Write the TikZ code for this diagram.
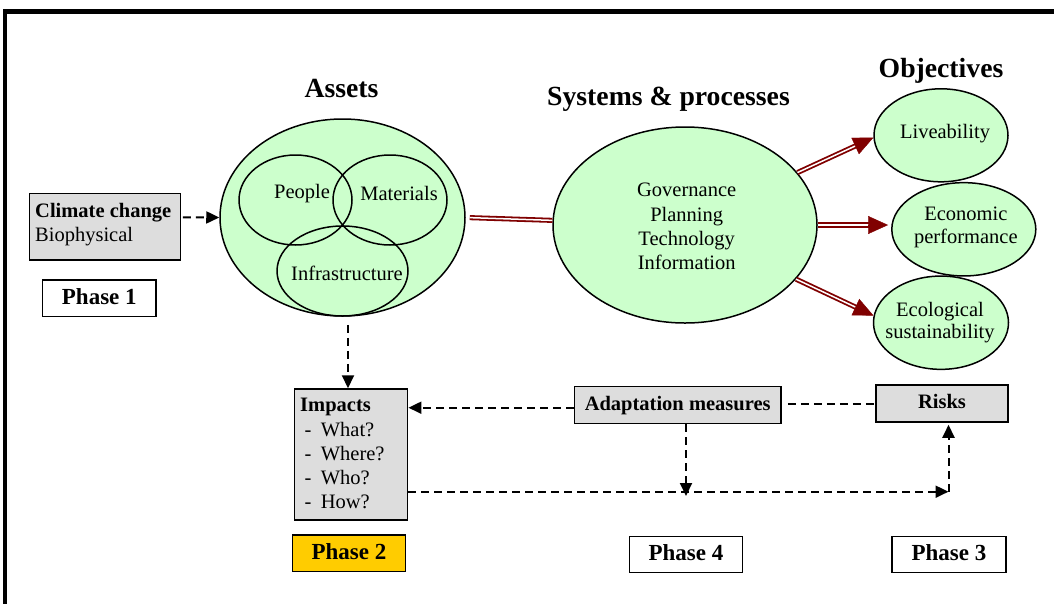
\documentclass[tikz,border=0pt]{standalone}
\usepackage{fontspec}
\setmainfont{Liberation Serif}
\usetikzlibrary{arrows.meta,shapes.geometric,calc}

\definecolor{lgreen}{HTML}{CCFFCC}
\definecolor{lgray}{HTML}{DDDDDD}
\definecolor{gold}{HTML}{FFCC00}
\definecolor{dred}{HTML}{800000}

\newcommand{\diagBody}{\fontsize{20.5}{24}\selectfont}
\newcommand{\diagTitle}{\fontsize{27.7}{32}\selectfont\bfseries}
\newcommand{\diagPhase}{\fontsize{23}{27}\selectfont\bfseries}

\tikzset{
  greenell/.style={ellipse, draw=black, line width=1.5pt, fill=lgreen, inner sep=0pt},
  ringell/.style={ellipse, draw=black, line width=1.5pt, inner sep=0pt},
  graybox/.style={rectangle, draw=black, line width=1.5pt, fill=lgray, inner sep=0pt,
    font=\diagBody\bfseries, text height=14pt, text depth=4pt},
  phasebox/.style={rectangle, draw=black, line width=1.5pt, fill=white, inner sep=0pt,
    font=\diagPhase, text height=15pt, text depth=3pt},
  txt/.style={inner sep=0pt, font=\diagBody, anchor=base},
  txtl/.style={inner sep=0pt, font=\diagBody, anchor=base west},
  title/.style={inner sep=0pt, font=\diagTitle, anchor=base},
  flow/.style={draw=black, line width=2pt, dash pattern=on 8pt off 5pt},
  flowarrow/.style={flow, -{Triangle[length=13pt,width=12pt]}},
  link/.style={draw=dred, line width=1.8pt, double=white, double distance=1.5pt},
  linkhead/.style={dred, line width=0.4pt, -{Triangle[length=20pt,width=18pt]}},
}

\begin{document}
\begin{tikzpicture}[x=1pt, y=-1pt]
\useasboundingbox (0,0) rectangle (1054,603);

% outer frame (left and top edges)
\begin{scope}
  \clip (0,0) rectangle (1054,603);
  \draw[line width=4.5pt] (5,620) -- (5,11.5) -- (1070,11.5);
\end{scope}

% titles
\node[title] (tassets) at (341.5,97) {Assets};
\node[title] (tsys) at (668.5,105) {Systems \& processes};
\node[title] (tobj) at (941,77) {Objectives};

% climate change input
\node[graybox, minimum width=151.4pt, minimum height=66.7pt] (clim) at (105,226.7) {};
\node[txtl, font=\diagBody\bfseries] (climA) at (35,217.3) {Climate change};
\node[txtl] (climB) at (35,241) {Biophysical};
\node[phasebox, minimum width=113.3pt, minimum height=36.7pt] (ph1) at (99.3,298.3) {Phase 1};

% assets
\node[greenell, minimum width=245pt, minimum height=197pt] (assets) at (342.5,217.5) {};
\node[ringell, minimum width=113pt, minimum height=90pt] (people) at (295.5,200) {};
\node[ringell, minimum width=114pt, minimum height=90pt] (materials) at (390,200) {};
\node[ringell, minimum width=131pt, minimum height=90pt] (infra) at (342.5,271) {};
\node[txt] (tpeople) at (302,198.3) {People};
\node[txt] (tmaterials) at (399,200) {Materials};
\node[txt] (tinfra) at (347,280) {Infrastructure};

% systems & processes
\node[greenell, minimum width=264pt, minimum height=196pt] (sys) at (685,225) {};
\node[txt] (s1) at (686.7,196.7) {Governance};
\node[txt] (s2) at (686.7,221) {Planning};
\node[txt] (s3) at (686.7,245.3) {Technology};
\node[txt] (s4) at (686.7,269.5) {Information};

% objectives
\node[greenell, minimum width=134pt, minimum height=93pt] (live) at (941,135.3) {};
\node[txt] (tlive) at (945,138.3) {Liveability};
\node[greenell, minimum width=144pt, minimum height=93.3pt] (econ) at (963.8,229.3) {};
\node[txt] (tecon1) at (965.8,220) {Economic};
\node[txt] (tecon2) at (965.8,243.3) {performance};
\node[greenell, minimum width=135pt, minimum height=93.3pt] (eco) at (941,322.7) {};
\node[txt] (teco1) at (940,316.7) {Ecological};
\node[txt] (teco2) at (940,338.3) {sustainability};

% impacts, adaptation, risks
\node[graybox, minimum width=113.4pt, minimum height=131pt] (imp) at (351,454.5) {};
\node[txtl, font=\diagBody\bfseries] (imp0) at (300,411.7) {Impacts};
\node[txtl] (imp1) at (304.3,436.7) {-\hspace{9.5pt}What?};
\node[txtl] (imp2) at (304.3,460.5) {-\hspace{9.5pt}Where?};
\node[txtl] (imp3) at (304.3,484.5) {-\hspace{9.5pt}Who?};
\node[txtl] (imp4) at (304.3,508.3) {-\hspace{9.5pt}How?};
\node[graybox, minimum width=206.7pt, minimum height=36.6pt] (adapt) at (677.7,405) {Adaptation measures};
\node[graybox, minimum width=132pt, minimum height=37pt] (risks) at (942,403.5) {Risks};

% phase labels
\node[phasebox, fill=gold, minimum width=113.4pt, minimum height=36.7pt] (ph2) at (349,553.3) {Phase 2};
\node[phasebox, minimum width=113.4pt, minimum height=36pt] (ph4) at (686,554.7) {Phase 4};
\node[phasebox, minimum width=114pt, minimum height=36pt] (ph3) at (949,554.7) {Phase 3};

% junction points of the dashed flow
\coordinate (merge) at (948.5,491.7);
\coordinate (drop) at (686,496);

% dashed flow connectors
\draw[flowarrow, shorten <=1.5pt] (clim.7) -- (assets.west);
\draw[flowarrow, shorten <=8pt] ([xshift=-3pt]imp.north |- assets.south) -- ([xshift=-3pt]imp.north);
\draw[flowarrow] ([yshift=-2.7pt]adapt.west) -- ([yshift=-2.7pt]adapt.west -| imp.east);
\draw[flow, shorten <=6pt] (risks.west -| adapt.east) -- (risks.west);
\draw[flowarrow] ([xshift=8.3pt]adapt.south) -- ([xshift=8.3pt]adapt.south |- drop);
\draw[flowarrow] (merge -| imp.east) -- (merge);
\draw[flowarrow, shorten >=2pt] (merge) -- (merge |- risks.south);

% double red links
\draw[link, shorten <=4pt] (assets.east) -- (sys.178);
\draw[link, shorten >=17pt] (sys.25) -- (live.182);
\draw[linkhead] ($(live.182)!20pt!(sys.25)$) -- (live.182);
\draw[link, shorten >=17pt, shorten <=0pt] (sys.east) -- ([xshift=-3pt]sys.east -| econ.west);
\draw[linkhead] ($([xshift=-3pt]sys.east -| econ.west)+(-20,0)$) -- ([xshift=-3pt]sys.east -| econ.west);
\draw[link, shorten >=17pt] (sys.-26) -- (eco.174);
\draw[linkhead] ($(eco.174)!20pt!(sys.-26)$) -- (eco.174);
\end{tikzpicture}
\end{document}
